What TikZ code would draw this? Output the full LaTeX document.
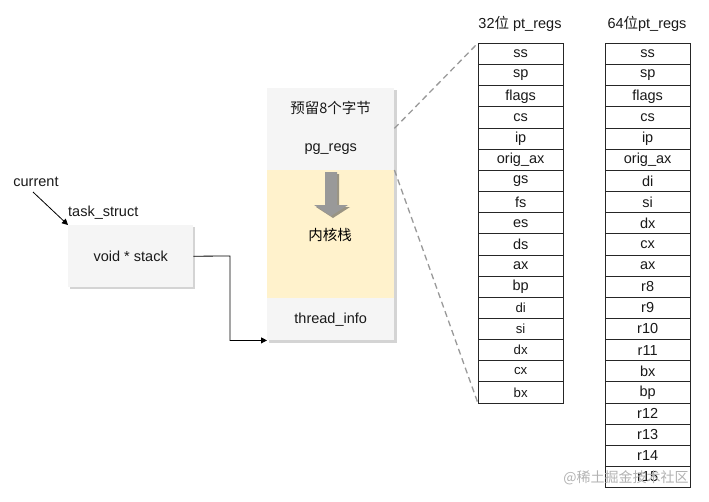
\documentclass[tikz,border=0pt]{standalone}
\usepackage{fontspec}
\setmainfont{Liberation Sans}
\newfontfamily\cjk{Noto Sans CJK SC}
\usetikzlibrary{arrows.meta,calc}
\definecolor{boxgray}{HTML}{F5F5F5}
\definecolor{shadowgray}{HTML}{D4D4D4}
\definecolor{stackyellow}{HTML}{FFF2CC}
\definecolor{arrowgray}{HTML}{999999}
\definecolor{dashgray}{HTML}{999999}
\begin{document}
\begin{tikzpicture}[x=1pt,y=-1pt,
  txt/.style={font=\fontsize{14.5}{16}\selectfont, text=black!90, inner sep=0pt},
  regrow/.style={draw=black!85, line width=0.8pt, fill=white, minimum width=84.5pt, minimum height=21.15pt, inner sep=0pt, font=\fontsize{14.5}{16}\selectfont, text=black!90, anchor=north west},
  smallrow/.style={regrow, font=\fontsize{13.2}{15}\selectfont},
  section/.style={minimum width=127pt, inner sep=0pt, anchor=north west, font=\fontsize{14.5}{16}\selectfont, text=black!90},
  conn/.style={line width=0.8pt, -{Triangle[length=6pt,width=6pt]}},
  dashline/.style={dashgray, dashed, dash pattern=on 6pt off 4pt, line width=1.3pt}
]
\useasboundingbox (0,0) rectangle (709,501);

% ---------- task_struct ----------
\fill[shadowgray] (70,227) rectangle (195,289);
\node[fill=boxgray, minimum width=125pt, minimum height=62pt, inner sep=0pt, anchor=north west,
      font=\fontsize{14.5}{16}\selectfont, text=black!90] (task) at (68,225) {void * stack};
\node[txt, anchor=south west] (tslabel) at (68,220) {task\_struct};
\node[txt] (current) at (36,182) {current};
\coordinate (curstart) at (33,192);
\draw[conn] (curstart) -- (task.north west);

% ---------- kernel stack box ----------
\fill[shadowgray] (269,90) rectangle (397,343);
\node[section, fill=boxgray, minimum height=40pt] (resv) at (267,88) {\cjk 预留8个字节};
\node[section, fill=boxgray, minimum height=42pt] (pgregs) at (267,128) {pg\_regs};
\node[section, fill=stackyellow, minimum height=128pt] (kstack) at (267,170) {};
\node[section, fill=boxgray, minimum height=42pt] (tinfo) at (267,298) {thread\_info};
\node[txt, font=\fontsize{14.5}{16}\selectfont\cjk, text=black] (kslabel) at (330,235) {内核栈};

% gray down arrow with shadow
\fill[black!35!stackyellow!70!gray] (327,174) -- (339,174) -- (339,207) -- (350,207) -- (333,218) -- (316,207) -- (327,207) -- cycle;
\fill[arrowgray] (325,172) -- (337,172) -- (337,205) -- (348,205) -- (331,216) -- (314,205) -- (325,205) -- cycle;

% ---------- headers ----------
\node[txt] (h32) at (520,24) {32{\cjk 位} pt\_regs};
\node[txt] (h64) at (647,24) {64{\cjk 位}pt\_regs};

% ---------- 32-bit table ----------
\foreach \name [count=\i] in {ss,sp,flags,cs,ip,orig\_ax,gs,fs,es,ds,ax,bp}
  \node[regrow] (a\i) at (478,{43+(\i-1)*21.15}) {\name};
\node[smallrow] (a13) at (478,{43+12*21.15}) {di};
\node[smallrow] (a14) at (478,{43+13*21.15}) {si};
\node[smallrow] (a15) at (478,{43+14*21.15}) {dx};
\node[smallrow] (a16) at (478,{43+15*21.15}) {cx};
\node[smallrow] (a17) at (478,{43+16*21.15}) {bx};

% ---------- 64-bit table ----------
\foreach \name [count=\i] in {ss,sp,flags,cs,ip,orig\_ax,di,si,dx,cx,ax,r8,r9,r10,r11,bx,bp,r12,r13,r14,r15}
  \node[regrow] (b\i) at (605,{43+(\i-1)*21.15}) {\name};

% ---------- dashed connectors ----------
\draw[dashline] (resv.south east) -- (a1.north west);
\draw[dashline] (kstack.north east) -- (a17.south west);

% ---------- stack pointer connector ----------
\coordinate (bend) at (230,256);
\draw[conn] (task.east) -- (bend) |- (tinfo.south west);

% ---------- watermark ----------
\node[font=\fontsize{14}{16}\selectfont\cjk, text=black!30, inner sep=0pt] (wm) at (626,478) {@稀土掘金技术社区};
\end{tikzpicture}
\end{document}
